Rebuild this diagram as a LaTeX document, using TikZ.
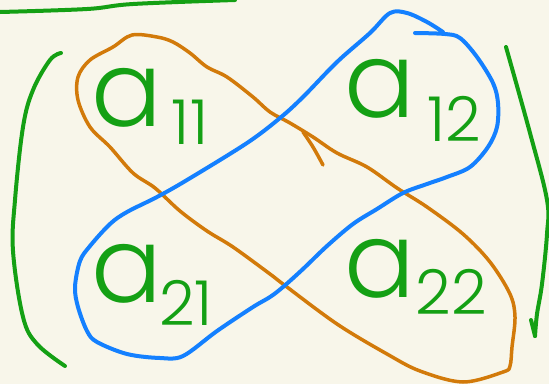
\documentclass[tikz,border=0pt]{standalone}
\usepackage{fontspec}
\newfontfamily\hand{Poppins Light}
\newfontfamily\handthin{Poppins ExtraLight}
\definecolor{bg}{HTML}{F8F6EA}
\definecolor{inkgreen}{HTML}{14A014}
\definecolor{inkblue}{HTML}{1480FF}
\definecolor{inkorange}{HTML}{D27A0A}
\begin{document}
\begin{tikzpicture}[x=1pt,y=-1pt,
  stroke/.style={line width=4pt,line cap=round,line join=round},
  letter/.style={inner sep=0pt,text=inkgreen,font=\hand\fontsize{105}{105}\selectfont},
  sub/.style={inner sep=0pt,text=inkgreen,font=\hand\fontsize{62}{62}\selectfont}]
\fill[bg] (0,0) rectangle (549,384);
\useasboundingbox (0,0) rectangle (549,384);
% brackets and top line
\draw[stroke,inkgreen] plot[smooth,tension=0.6] coordinates {(0,12) (87,9) (133,4) (235,0)};
\draw[stroke,inkgreen] plot[smooth,tension=0.6] coordinates {(61,53) (50,60) (33,90) (23,127) (15,200) (13,251) (23,317) (37,344) (65,366)};
\draw[stroke,inkgreen] plot[smooth,tension=0.6] coordinates {(506,47) (530,133) (547,200) (547,234) (542,284) (537,314) (535,336)};
\draw[stroke,inkgreen] (531,320) -- (535,336);
% orange loop
\draw[stroke,inkorange,line width=3.5pt] plot[smooth cycle,tension=0.55] coordinates {(132,35) (113,47) (90,60) (78,77) (78,100) (90,127) (110,147) (133,173) (155,188) (180,211) (207,231) (233,247) (270,274) (283,284) (337,324) (387,354) (420,371) (463,382) (503,372) (510,366) (512,347) (515,317) (510,294) (490,262) (463,234) (427,207) (397,188) (367,167) (337,153) (313,137) (290,123) (270,112) (253,97) (227,77) (207,67) (190,53) (173,42) (157,37)};
\draw[stroke,inkorange,line width=3.5pt] plot[smooth,tension=0.6] coordinates {(303,132) (313,147) (323,165)};
% blue loop
\draw[stroke,inkblue] plot[smooth,tension=0.55] coordinates {(415,33) (445,34) (460,38) (477,57) (493,83) (498,103) (497,127) (488,147) (470,167) (447,177) (427,184) (403,193) (377,209) (353,224) (327,246) (303,269) (283,287) (270,297) (253,307) (217,331) (183,356) (160,358) (127,354) (97,342) (87,331) (78,307) (75,287) (80,261) (90,246) (110,224) (127,212) (157,197) (187,180) (247,143) (280,118) (303,97) (337,62) (370,33) (390,13) (407,13) (427,22) (443,32)};
% entries
\node[letter] (a11a) at (127,98) {a};
\node[sub] (a11s) at (190,122) {11};
\node[letter] (a12a) at (380,89) {a};
\node[sub] (a12s) at (454,119) {12};
\node[letter] (a21a) at (127,274) {a};
\node[sub] (a21s) at (186,303) {21};
\node[letter] (a22a) at (380,269) {a};
\node[sub] (a22s) at (451,292) {22};
\end{tikzpicture}
\end{document}
